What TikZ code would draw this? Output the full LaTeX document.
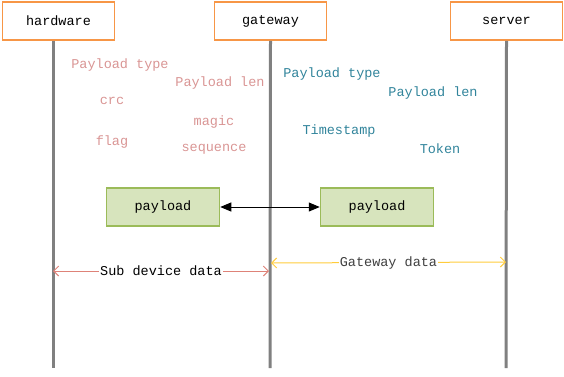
\documentclass[tikz,border=0pt]{standalone}
\usepackage{fontspec}
\setmonofont{Liberation Mono}
\usetikzlibrary{arrows.meta, positioning}

\definecolor{boxorange}{RGB}{247,150,70}
\definecolor{lifegray}{RGB}{128,128,128}
\definecolor{hwtext}{RGB}{217,149,148}
\definecolor{gwtext}{RGB}{49,132,155}
\definecolor{payfill}{RGB}{215,228,189}
\definecolor{payedge}{RGB}{155,187,89}
\definecolor{subline}{RGB}{222,130,120}
\definecolor{gwline}{RGB}{255,204,60}
\definecolor{gwlabeltext}{RGB}{64,64,64}

\tikzset{
  actor/.style={draw=boxorange, line width=1.6pt, fill=white, minimum width=112pt, minimum height=38pt, font=\fontsize{13.5}{15}\ttfamily},
  lifeline/.style={draw=lifegray, line width=3pt},
  field/.style={font=\fontsize{13.5}{15}\ttfamily, inner sep=0pt},
  paybox/.style={draw=payedge, fill=payfill, line width=1.5pt, minimum width=113pt, minimum height=38pt, font=\fontsize{13.5}{15}\ttfamily},
  span/.style={line width=1pt, {Straight Barb[length=5pt,width=10pt]}-{Straight Barb[length=5pt,width=10pt]}}
}

\begin{document}
\begin{tikzpicture}[x=1pt,y=-1pt]
\useasboundingbox (0,0) rectangle (564,376);

% the three parties and their lifelines
\node [actor] (hw) at (58.5,21)  {hardware};
\node [actor] (gw) at (270.5,21) {gateway};
\node [actor] (sv) at (506.5,21) {server};
\coordinate (hwend) at (53,368);
\coordinate (gwend) at (270,368);
\coordinate (svend) at (506,368);
\draw [lifeline] ([xshift=-5.5pt]hw.south) -- (hwend);
\draw [lifeline] (gw.south) -- (gwend);
\draw [lifeline] (sv.south) -- (svend);

% fields on the hardware side
\node [field, text=hwtext] (hwtype)  at (120,65)  {Payload type};
\node [field, text=hwtext] (hwlen)   at (220,83)  {Payload len};
\node [field, text=hwtext] (hwcrc)   at (112,101) {crc};
\node [field, text=hwtext] (hwmagic) at (214,122) {magic};
\node [field, text=hwtext] (hwflag)  at (112,142) {flag};
\node [field, text=hwtext] (hwseq)   at (214,149) {sequence};

% fields on the gateway side
\node [field, text=gwtext] (gwtype)  at (332,74)  {Payload type};
\node [field, text=gwtext] (gwlen)   at (433,93)  {Payload len};
\node [field, text=gwtext] (gwtime)  at (339,131) {Timestamp};
\node [field, text=gwtext] (gwtoken) at (440,149) {Token};

% payload exchange
\node [paybox] (payl) at (163,207) {payload};
\node [paybox] (payr) at (377,207) {payload};
\draw [line width=0.9pt, {Triangle[length=11pt,width=9pt]}-{Triangle[length=11pt,width=9pt]}] (payl.east) -- (payr.west);

% data spans
\coordinate (subl) at (53,271);
\coordinate (subr) at (269,271);
\coordinate (gwl)  at (271,263);
\coordinate (gwr)  at (506,262);
\draw [span, draw=subline] (subl) -- node [fill=white, inner sep=1pt, font=\fontsize{13.5}{15}\ttfamily] (sublabel) {Sub device data} (subr);
\draw [span, draw=gwline] (gwl) -- node [fill=white, inner sep=1pt, text=gwlabeltext, font=\fontsize{13.5}{15}\ttfamily] (gwlabel) {Gateway data} (gwr);
\end{tikzpicture}
\end{document}
